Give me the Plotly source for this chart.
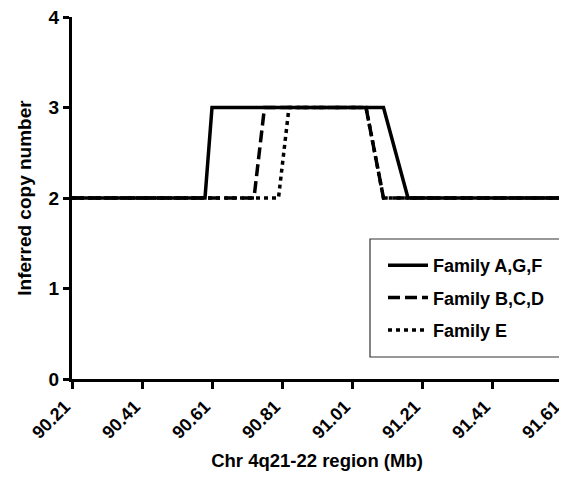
import plotly.graph_objects as go

# Data (Mb position, inferred copy number)
solid_x = [90.21, 90.59, 90.61, 91.10, 91.17, 91.61]
solid_y = [2, 2, 3, 3, 2, 2]
dash_x = [90.21, 90.73, 90.76, 91.05, 91.10, 91.61]
dash_y = [2, 2, 3, 3, 2, 2]
dot_x = [90.21, 90.80, 90.83, 91.05, 91.10, 91.61]
dot_y = [2, 2, 3, 3, 2, 2]
series_names = ["Family A,G,F", "Family B,C,D", "Family E"]

x_ticks = [90.21, 90.41, 90.61, 90.81, 91.01, 91.21, 91.41, 91.61]
x_ticktext = ["90.21", "90.41", "90.61", "90.81", "91.01", "91.21", "91.41", "91.61"]
y_ticks = [0, 1, 2, 3, 4]

FONT = "Liberation Sans, Arial, sans-serif"

# page body has an 8px margin; size the figure so it fits the 567x479 window
W, H = 559, 463
L, R, T, B = 64, 5, 9, 92
PW, PH = W - L - R, H - T - B

fig = go.Figure()
fig.add_trace(go.Scatter(x=solid_x, y=solid_y, mode="lines", name=series_names[0],
                         line=dict(color="black", width=3.5), legendgroup="a"))
fig.add_trace(go.Scatter(x=dash_x, y=dash_y, mode="lines", name=series_names[1],
                         line=dict(color="black", width=3.5, dash="12px,5px"), legendgroup="b"))
fig.add_trace(go.Scatter(x=dot_x, y=dot_y, mode="lines", name=series_names[2],
                         line=dict(color="black", width=3.5, dash="4px,4px"), legendgroup="c"))

# legend frame (decoration)
fig.add_shape(type="rect", xref="paper", yref="paper",
              x0=(362 - L) / PW, x1=(556 - L) / PW,
              y0=(T + PH - 349) / PH, y1=(T + PH - 231) / PH,
              line=dict(color="#333", width=1.2), fillcolor="rgba(0,0,0,0)")

fig.update_layout(
    width=W, height=H,
    margin=dict(l=L, r=R, t=T, b=B),
    paper_bgcolor="white", plot_bgcolor="white",
    font=dict(family=FONT, size=18, color="black", weight="bold"),
    showlegend=True,
    legend=dict(
        x=(375 - L) / PW, y=(T + PH - 239) / PH, xanchor="left", yanchor="top",
        borderwidth=0, bgcolor="rgba(0,0,0,0)",
        font=dict(family=FONT, size=18, color="black", weight="bold"),
        traceorder="grouped", tracegroupgap=6, itemwidth=40,
    ),
    xaxis=dict(
        range=[90.21, 91.6100001], tickvals=x_ticks, ticktext=x_ticktext,
        tickangle=-45, showgrid=False, zeroline=False, automargin=False,
        ticklabeloverflow="allow", ticklabelshift=-7,
        showline=True, linecolor="black", linewidth=3,
        ticks="outside", ticklen=7, tickwidth=3, tickcolor="black",
        tickfont=dict(family=FONT, size=18, color="black", weight="bold"),
        title=dict(text="Chr 4q21-22 region (Mb)", standoff=22,
                   font=dict(family=FONT, size=18.5, color="black", weight="bold")),
    ),
    yaxis=dict(
        range=[0, 4], tickvals=y_ticks, showgrid=False, zeroline=False, automargin=False,
        ticklabeloverflow="allow",
        showline=True, linecolor="black", linewidth=3,
        ticks="outside", ticklen=6, tickwidth=3, tickcolor="black",
        tickfont=dict(family=FONT, size=19, color="black", weight="bold"),
        title=dict(text="Inferred copy number", standoff=12,
                   font=dict(family=FONT, size=19, color="black", weight="bold")),
    ),
)

fig.write_html("out.html")
